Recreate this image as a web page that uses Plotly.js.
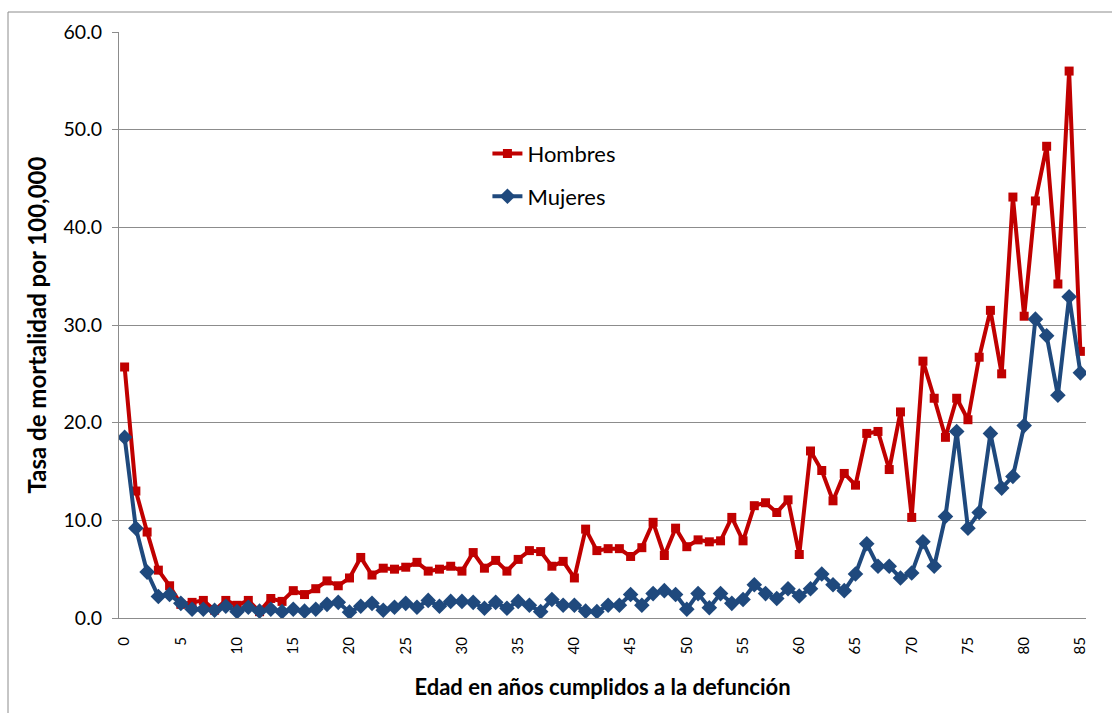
<!DOCTYPE html>
<html>
<head>
<meta charset="utf-8">
<script src="https://cdn.plot.ly/plotly-3.0.1.min.js"></script>
<style>html,body{margin:0;padding:0;background:#fff;}#chart{width:1112px;height:713px;}</style>
</head>
<body>
<div id="chart"></div>
<script>
// Edad en años cumplidos (0..85)
var edades = [];
for (var i = 0; i <= 85; i++) { edades.push(i); }

var hombres = [25.7, 13.0, 8.8, 4.9, 3.3, 1.4, 1.6, 1.8, 0.8, 1.8,
               1.3, 1.8, 0.65, 2.0, 1.7, 2.8, 2.4, 3.0, 3.8, 3.3,
               4.1, 6.2, 4.4, 5.1, 5.0, 5.2, 5.7, 4.8, 5.0, 5.3,
               4.8, 6.7, 5.1, 5.9, 4.8, 6.0, 6.9, 6.8, 5.3, 5.8,
               4.1, 9.1, 6.9, 7.1, 7.1, 6.3, 7.2, 9.8, 6.4, 9.2,
               7.3, 8.0, 7.8, 7.9, 10.3, 7.9, 11.5, 11.8, 10.8, 12.1,
               6.5, 17.1, 15.1, 12.0, 14.8, 13.6, 18.9, 19.1, 15.2, 21.1,
               10.3, 26.3, 22.5, 18.5, 22.5, 20.3, 26.7, 31.5, 25.0, 43.1,
               30.9, 42.7, 48.3, 34.2, 56.0, 27.3];

var mujeres = [18.5, 9.2, 4.7, 2.2, 2.4, 1.5, 0.9, 0.9, 0.8, 1.2,
               0.65, 1.1, 0.7, 0.9, 0.65, 0.9, 0.7, 0.9, 1.4, 1.6,
               0.6, 1.2, 1.5, 0.8, 1.1, 1.5, 1.1, 1.8, 1.2, 1.7,
               1.7, 1.6, 1.0, 1.6, 1.0, 1.7, 1.3, 0.65, 1.9, 1.3,
               1.3, 0.7, 0.65, 1.3, 1.3, 2.4, 1.3, 2.5, 2.8, 2.4,
               0.9, 2.5, 1.05, 2.5, 1.5, 1.9, 3.4, 2.5, 2.0, 3.0,
               2.25, 3.0, 4.5, 3.4, 2.8, 4.5, 7.6, 5.3, 5.3, 4.1,
               4.6, 7.8, 5.3, 10.4, 19.1, 9.2, 10.8, 18.9, 13.3, 14.5,
               19.7, 30.6, 28.9, 22.8, 32.9, 25.1];

var xTicks = [0, 5, 10, 15, 20, 25, 30, 35, 40, 45, 50, 55, 60, 65, 70, 75, 80, 85];
var yTicks = [0, 10, 20, 30, 40, 50, 60];
var yTickText = ["0.0", "10.0", "20.0", "30.0", "40.0", "50.0", "60.0"];

var FONT = "Lato, 'Open Sans', sans-serif";
var GRID = "#8c8c8c";

var traces = [
  {
    x: edades, y: hombres, name: "Hombres", type: "scatter", mode: "lines+markers",
    legendgroup: "h",
    line: {color: "#C00000", width: 4},
    marker: {symbol: "square", size: 9, color: "#C00000"}
  },
  {
    x: edades, y: mujeres, name: "Mujeres", type: "scatter", mode: "lines+markers",
    legendgroup: "m",
    line: {color: "#1F497D", width: 4},
    marker: {symbol: "diamond", size: 12, color: "#1F497D"}
  }
];

var layout = {
  width: 1112, height: 713,
  margin: {l: 119, r: 26, t: 32, b: 95},
  paper_bgcolor: "#fff", plot_bgcolor: "#fff",
  font: {family: FONT, color: "#000"},
  showlegend: true,
  legend: {
    x: 0.381, y: 0.828, xanchor: "left", yanchor: "top",
    bgcolor: "rgba(0,0,0,0)", tracegroupgap: 11,
    font: {family: FONT, size: 22, color: "#000"},
    itemwidth: 30
  },
  xaxis: {
    range: [-0.5, 85.5], autorange: false,
    tickmode: "array", tickvals: xTicks, ticktext: xTicks.map(String),
    tickangle: -90, tickfont: {family: FONT, size: 15, color: "#000"},
    showgrid: false, zeroline: false,
    showline: true, linecolor: GRID, linewidth: 1,
    ticks: "", ticklabelstandoff: 12,
    title: {text: "<b>Edad en años cumplidos a la defunción</b>", font: {family: FONT, size: 22, color: "#000"}, standoff: 26}
  },
  yaxis: {
    range: [0, 60], autorange: false,
    tickmode: "array", tickvals: yTicks, ticktext: yTickText,
    tickfont: {family: FONT, size: 19.5, color: "#000"},
    showgrid: true, gridcolor: GRID, gridwidth: 1,
    zeroline: false, showline: true, linecolor: GRID, linewidth: 1,
    ticks: "outside", ticklen: 6, tickcolor: GRID, ticklabelstandoff: 6,
    title: {text: "<b>Tasa de mortalidad por 100,000</b>", font: {family: FONT, size: 24, color: "#000"}, standoff: 10}
  },
  shapes: [
    {type: "rect", xref: "paper", yref: "paper",
     x0: -111/967, x1: 1 + 60/967, y0: -200/586, y1: 1 + 20/586,
     line: {color: "#8c8c8c", width: 1}, fillcolor: "rgba(0,0,0,0)", layer: "below"}
  ]
};

Plotly.newPlot("chart", traces, layout, {displayModeBar: false, staticPlot: true});
</script>
</body>
</html>
